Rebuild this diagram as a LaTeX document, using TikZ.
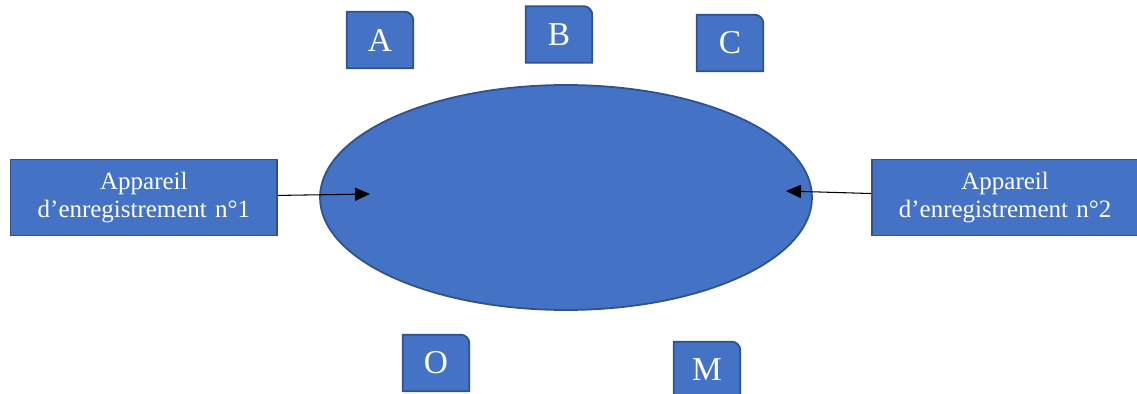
\documentclass[tikz,border=0pt]{standalone}
\usepackage{fontspec}
\setmainfont{Liberation Serif}
\usetikzlibrary{arrows.meta,positioning,shapes,backgrounds}
\definecolor{officeblue}{HTML}{4472C4}
\definecolor{officeedge}{HTML}{2F528F}

\begin{document}
\begin{tikzpicture}
[ node distance=8.2mm and 8.2mm,
		zone/.style={ellipse,draw=officeedge,fill=officeblue,line width=1pt,minimum width=9.84cm,minimum height=4.5cm},
		device/.style={rectangle,draw=officeedge,fill=officeblue,line width=1pt,minimum width=5.3cm,minimum height=1.52cm,text width=5.1cm,text centered,text=white,font=\fontsize{14.2}{15.8}\selectfont},
		letter/.style={rectangle,minimum width=1.32cm,minimum height=1.12cm,text=white,font=\fontsize{19}{22}\selectfont},
		tab/.style={draw=officeedge,fill=officeblue,line width=1pt},
		arrowIn/.style={-{Triangle[length=8.5pt,width=7.5pt]},semithick}]

	\useasboundingbox (-11.32,-3.93) rectangle (11.42,3.95);

	\node[zone] (zone) at (0,0) {};
	\node[device] (device1) [left=of zone] {Appareil\\d’enregistrement n°1};
	\node[device] (device2) [right=11.6mm of zone] {Appareil\\d’enregistrement n°2};

	\node[letter] (A) at (-3.72,3.15) {A};
	\node[letter] (B) at (-0.14,3.26) {B};
	\node[letter] (C) at (3.28,3.09) {C};
	\node[letter] (O) at (-2.6,-3.31) {O};
	\node[letter] (M) at (2.82,-3.45) {M};

	\begin{scope}[on background layer]
		\foreach \n in {A,B,C,O,M}
			\draw[tab] (\n.south west) -- (\n.north west) -- ([xshift=-5pt]\n.north east)
				arc[start angle=90,end angle=0,radius=5pt] -- (\n.south east) -- cycle;
	\end{scope}

	\coordinate (in1) at (-3.92,0.07);
	\coordinate (in2) at (4.4,0.13);
	\draw[arrowIn] (device1) -- (in1);
	\draw[arrowIn] (device2) -- (in2);
\end{tikzpicture}
\end{document}
